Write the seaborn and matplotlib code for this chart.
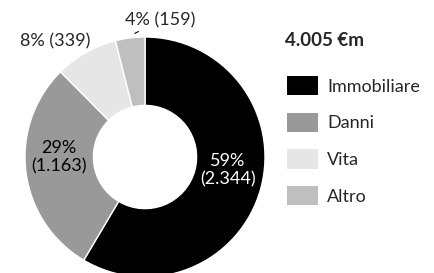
import matplotlib
matplotlib.use("Agg")
import matplotlib.pyplot as plt
import seaborn as sns

categories = ["Immobiliare", "Danni", "Vita", "Altro"]
values = [2344, 1163, 339, 159]
pct_labels = ["59%", "29%", "8%", "4%"]
value_labels = ["2.344", "1.163", "339", "159"]
colors = ["#000000", "#999999", "#e6e6e6", "#bfbfbf"]
total_label = "4.005 €m"

sns.set_theme(style="white")
plt.rcParams['font.family'] = ['Lato', 'DejaVu Sans']

fs = 13
fig = plt.figure(figsize=(4.35, 2.73), dpi=100)
ax = fig.add_axes([25 / 435, -4 / 273, 240 / 435, 240 / 273])

wedges, _ = ax.pie(values, colors=colors, startangle=90, counterclock=False,
                   wedgeprops=dict(width=0.57, edgecolor="white", linewidth=1))
ax.set_xlim(-1, 1)
ax.set_ylim(-1, 1)
ax.set_aspect("equal")

# labels inside the ring
ax.text(0.69, -0.11, f"{pct_labels[0]}\n({value_labels[0]})", ha="center", va="center",
        color="white", fontsize=fs, linespacing=1.15)
ax.text(-0.72, 0.0, f"{pct_labels[1]}\n({value_labels[1]})", ha="center", va="center",
        color="black", fontsize=fs, linespacing=1.15)

# labels outside the ring
ax.text(-0.75, 0.96, f"{pct_labels[2]} ({value_labels[2]})", ha="center", va="center", fontsize=fs)
ax.annotate(f"{pct_labels[3]} ({value_labels[3]})", xy=(-0.085, 1.03), xytext=(0.13, 1.14),
            ha="center", va="center", fontsize=fs, annotation_clip=False,
            arrowprops=dict(arrowstyle="-", color="black", lw=0.8, shrinkA=7, shrinkB=0))

fig.text(285 / 435, 1 - 40 / 273, total_label, fontsize=13.5, fontweight="bold", va="center", ha="left")

leg = fig.legend(wedges, categories, loc="upper left", bbox_to_anchor=(287 / 435, 1 - 76 / 273),
                 frameon=False, fontsize=fs, handlelength=1.72, handleheight=1.28,
                 handletextpad=0.5, labelspacing=0.95, borderaxespad=0, borderpad=0)
for h in leg.legend_handles:
    h.set_edgecolor("none")

fig.savefig("out.png", dpi=100)
